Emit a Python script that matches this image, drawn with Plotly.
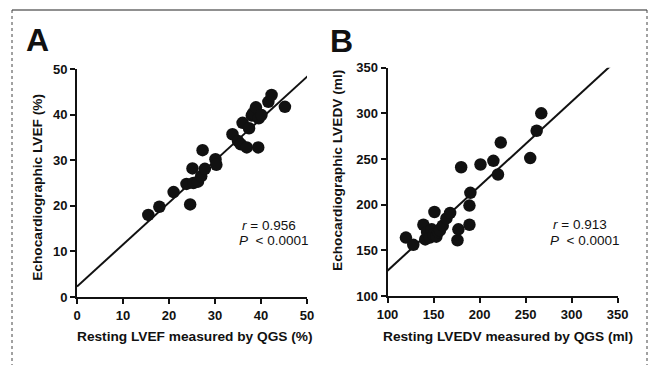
import plotly.graph_objects as go

W, H = 652, 365

# ---- Panel A data: resting LVEF by QGS (%) vs echocardiographic LVEF (%) ----
lvef_qgs = [15.5, 17.9, 21.0, 23.8, 24.6, 25.1, 25.3, 26.3, 27.0, 27.3, 27.8, 30.1, 30.3,
            33.8, 35.0, 35.6, 36.0, 36.9, 37.4, 38.0, 38.3, 38.9, 39.4, 39.5, 40.1, 41.6, 42.3, 45.2]
lvef_echo = [18.0, 19.8, 23.0, 24.8, 20.3, 28.2, 25.0, 25.3, 26.5, 32.2, 28.1, 30.2, 29.0,
             35.7, 34.2, 33.5, 38.2, 32.8, 37.0, 39.8, 40.3, 41.6, 32.8, 39.2, 39.9, 42.8, 44.3, 41.7]
fit_a = {"intercept": 2.3, "slope": 0.92}
x_range_a = [0, 50]
ticks_a = [0, 10, 20, 30, 40, 50]

# ---- Panel B data: resting LVEDV by QGS (ml) vs echocardiographic LVEDV (ml) ----
lvedv_qgs = [120, 128, 139, 141, 143, 146, 148, 150, 151, 153, 155, 157, 160, 164, 168,
             176, 177, 180, 189, 189, 190, 201, 215, 220, 223, 255, 262, 267]
lvedv_echo = [164, 156, 178, 162, 170, 164, 173, 167, 192, 165, 170, 172, 177, 185, 191,
              161, 173, 241, 178, 199, 213, 244, 248, 233, 268, 251, 281, 300]
fit_b = {"intercept": 35.1, "slope": 0.926}
x_range_b = [100, 350]
ticks_b = [100, 150, 200, 250, 300, 350]

stats_a = ["<i>r</i> = 0.956", "<i>P</i>  < 0.0001"]
stats_b = ["<i>r</i> = 0.913", "<i>P</i>  < 0.0001"]

FONT = "Liberation Sans, Arial, Helvetica, sans-serif"

def px_x(p):
    return p / W

def px_y(p):
    return 1 - p / H

fig = go.Figure()

def fit_line(fit, xr):
    xs = [xr[0], xr[1] + 1]
    ys = [fit["intercept"] + fit["slope"] * v for v in xs]
    return xs, ys

# Panel A
xa, ya = fit_line(fit_a, x_range_a)
fig.add_trace(go.Scatter(x=xa, y=ya, mode="lines", line=dict(color="#111", width=2),
                         xaxis="x", yaxis="y", showlegend=False, hoverinfo="skip"))
fig.add_trace(go.Scatter(x=lvef_qgs, y=lvef_echo, mode="markers",
                         marker=dict(color="#111", size=12.5, line=dict(width=0)),
                         xaxis="x", yaxis="y", showlegend=False, cliponaxis=False))

# Panel B
xb, yb = fit_line(fit_b, x_range_b)
fig.add_trace(go.Scatter(x=xb, y=yb, mode="lines", line=dict(color="#111", width=2),
                         xaxis="x2", yaxis="y2", showlegend=False, hoverinfo="skip"))
fig.add_trace(go.Scatter(x=lvedv_qgs, y=lvedv_echo, mode="markers",
                         marker=dict(color="#111", size=12.5, line=dict(width=0)),
                         xaxis="x2", yaxis="y2", showlegend=False, cliponaxis=False))

axis_common = dict(showgrid=False, zeroline=False, showline=True, linecolor="#111", linewidth=2,
                   ticks="outside", ticklen=5, tickwidth=2, tickcolor="#111",
                   tickfont=dict(family=FONT, size=13, color="#111", weight="bold"),
                   fixedrange=True, automargin=False)

fig.update_layout(
    width=W, height=H, autosize=False,
    margin=dict(l=0, r=0, t=0, b=0, pad=0, autoexpand=False),
    paper_bgcolor="white", plot_bgcolor="white",
    xaxis=dict(domain=[px_x(77), px_x(307)], range=x_range_a, tickvals=ticks_a,
               anchor="y", **axis_common),
    yaxis=dict(domain=[px_y(297), px_y(69)], range=[0, 50], tickvals=ticks_a,
               anchor="x", **axis_common),
    xaxis2=dict(domain=[px_x(387.5), px_x(617.7)], range=x_range_b, tickvals=ticks_b,
                anchor="y2", **axis_common),
    yaxis2=dict(domain=[px_y(296), px_y(67.7)], range=[100, 350], tickvals=ticks_b,
                anchor="x2", **axis_common),
)

title_font = dict(family=FONT, size=13.7, color="#111", weight="bold")
stat_font = dict(family=FONT, size=13.5, color="#111")
letter_font = dict(family=FONT, size=32, color="#111", weight="bold")

annotations = [
    # panel letters
    dict(text="A", x=px_x(37.5), y=px_y(40), font=letter_font),
    dict(text="B", x=px_x(341.7), y=px_y(40.5), font=letter_font),
    # axis titles
    dict(text="Resting LVEF measured by QGS (%)", x=px_x(195), y=px_y(336), font=title_font),
    dict(text="Resting LVEDV measured by QGS (ml)", x=px_x(507.5), y=px_y(336), font=title_font),
    dict(text="Echocardiographic LVEF (%)", x=px_x(37.3), y=px_y(187.5), font=title_font, textangle=-90),
    dict(text="Echocardiographic LVEDV (ml)", x=px_x(337), y=px_y(171), font=title_font, textangle=-90),
    # stats
    dict(text=stats_a[0], x=px_x(240), y=px_y(225), font=stat_font, xanchor="left"),
    dict(text=stats_a[1], x=px_x(237), y=px_y(241), font=stat_font, xanchor="left"),
    dict(text=stats_b[0], x=px_x(551), y=px_y(224), font=stat_font, xanchor="left"),
    dict(text=stats_b[1], x=px_x(548), y=px_y(241), font=stat_font, xanchor="left"),
]
for a in annotations:
    a.setdefault("xanchor", "center")
    a.update(xref="paper", yref="paper", yanchor="middle", showarrow=False)
fig.update_layout(annotations=annotations)

# outer frame
fig.add_shape(type="line", xref="paper", yref="paper", x0=px_x(12), x1=px_x(647),
              y0=px_y(10), y1=px_y(10), line=dict(color="#222", width=1.2))
fig.add_shape(type="line", xref="paper", yref="paper", x0=px_x(12), x1=px_x(12),
              y0=px_y(10), y1=0, line=dict(color="#444", width=1, dash="dot"))
fig.add_shape(type="line", xref="paper", yref="paper", x0=px_x(647), x1=px_x(647),
              y0=px_y(10), y1=0, line=dict(color="#444", width=1, dash="dot"))

fig.write_html("out.html", config={"displayModeBar": False},
               post_script="document.body.style.margin='0';document.body.style.overflow='hidden';")
